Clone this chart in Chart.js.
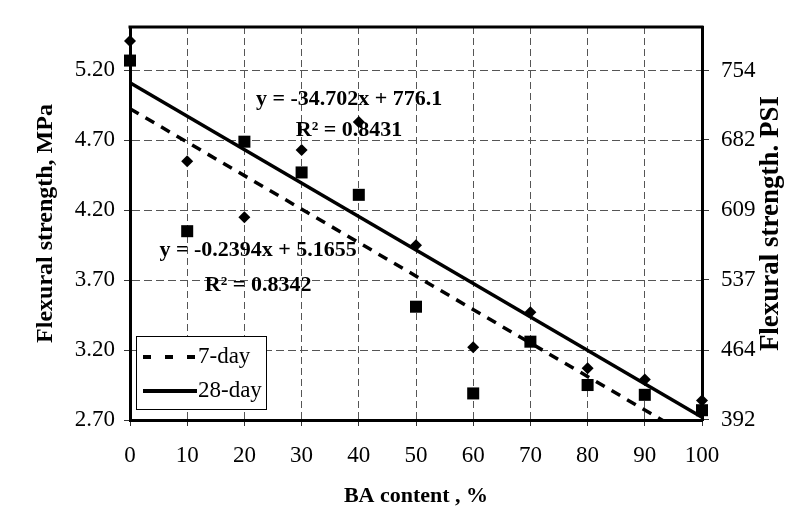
<!DOCTYPE html>
<html>
<head>
<meta charset="utf-8">
<title>Flexural strength vs BA content</title>
<script src="https://cdn.jsdelivr.net/npm/chart.js@4.4.0/dist/chart.umd.min.js"></script>
<style>
    html, body { margin: 0; padding: 0; background: #fff; }
    #chart { display: block; }
</style>
</head>
<body>
<canvas id="chart" width="798" height="532"></canvas>
<script>
// BA content (%) - x values
const baContent = [0, 10, 20, 30, 40, 50, 60, 70, 80, 90, 100];

// Measured flexural strength, MPa
const strength7Day = [5.27, 4.05, 4.69, 4.47, 4.31, 3.51, 2.89, 3.26, 2.95, 2.88, 2.77];
const strength28Day = [5.41, 4.55, 4.15, 4.63, 4.83, 3.95, 3.22, 3.47, 3.07, 2.99, 2.84];

// Axis ticks
const mpaTicks = [2.70, 3.20, 3.70, 4.20, 4.70, 5.20];
const psiTicks = [392, 464, 537, 609, 682, 754];
const mpaMin = 2.70;
const mpaMax = 5.51;
const PSI_PER_MPA = 145.038;

// Excel trendlines from the figure (x = point number 1..11)
const trend7 = { slope: -0.2394, intercept: 5.1655, r2: 0.8342 };   // MPa
const trend28 = { slope: -34.702, intercept: 776.1, r2: 0.8431 };   // psi

const serif = "'Liberation Serif', 'Times New Roman', Times, serif";

function trendPoints(t) {
    const last = baContent.length - 1;
    return [
        { x: baContent[0], y: t.intercept + t.slope * 1 },
        { x: baContent[last], y: t.intercept + t.slope * (last + 1) }
    ];
}

function equationText(t) {
    return 'y = ' + t.slope + 'x + ' + t.intercept;
}

// Top edge of the plot frame (the axes draw the other three sides)
const frameTop = {
    id: 'frameTop',
    beforeDatasetsDraw(chart) {
        const a = chart.chartArea;
        const ctx = chart.ctx;
        ctx.save();
        ctx.strokeStyle = '#000';
        ctx.lineWidth = 3;
        ctx.beginPath();
        ctx.moveTo(a.left - 1.5, a.top);
        ctx.lineTo(a.right + 1.5, a.top);
        ctx.stroke();
        ctx.restore();
    }
};

// Trendline equations placed in data coordinates
const equations = {
    id: 'equations',
    afterDatasetsDraw(chart, args, opts) {
        const ctx = chart.ctx;
        const x = chart.scales.x;
        const y = chart.scales.y;
        ctx.save();
        ctx.fillStyle = '#000';
        ctx.font = 'bold 22px ' + serif;
        ctx.textAlign = 'center';
        ctx.textBaseline = 'middle';
        opts.items.forEach(item => {
            ctx.fillText(item.text, x.getPixelForValue(item.x), y.getPixelForValue(item.y));
        });
        ctx.restore();
    }
};

// Boxed legend in the lower-left corner of the plot
const boxLegend = {
    id: 'boxLegend',
    afterDraw(chart) {
        const a = chart.chartArea;
        const ctx = chart.ctx;
        const entries = chart.data.datasets.filter(d => d.inLegend);
        const left = a.left + 6, bottom = a.bottom - 11;
        const w = 130, rowH = 34, h = 73;
        const top = bottom - h;
        ctx.save();
        ctx.fillStyle = '#fff';
        ctx.fillRect(left, top, w, h);
        ctx.strokeStyle = '#000';
        ctx.lineWidth = 1;
        ctx.strokeRect(left + 0.5, top + 0.5, w, h);
        entries.forEach((d, i) => {
            const cy = top + 21 + i * rowH;
            ctx.strokeStyle = '#000';
            ctx.lineWidth = 4;
            ctx.setLineDash(d.borderDash && d.borderDash.length ? [8, 14] : []);
            ctx.beginPath();
            ctx.moveTo(left + 7, cy);
            ctx.lineTo(left + 61, cy);
            ctx.stroke();
            ctx.setLineDash([]);
            ctx.fillStyle = '#000';
            ctx.font = '23px ' + serif;
            ctx.textAlign = 'left';
            ctx.textBaseline = 'middle';
            ctx.fillText(d.label, left + 62, cy);
        });
        ctx.restore();
    }
};

// Right axis title reads bottom-to-top like the left one
const rightTitle = {
    id: 'rightTitle',
    afterDraw(chart, args, opts) {
        const a = chart.chartArea;
        const ctx = chart.ctx;
        ctx.save();
        ctx.translate(a.right + 69, (a.top + a.bottom) / 2);
        ctx.rotate(-Math.PI / 2);
        ctx.fillStyle = '#000';
        ctx.font = 'bold 27px ' + serif;
        ctx.textAlign = 'center';
        ctx.textBaseline = 'middle';
        ctx.fillText(opts.text, 0, 0);
        ctx.restore();
    }
};

const tickFont = { family: serif, size: 23 };
const gridColor = '#555';

new Chart(document.getElementById('chart'), {
    type: 'scatter',
    data: {
        datasets: [
            {
                label: '7-day points',
                data: baContent.map((v, i) => ({ x: v, y: strength7Day[i] })),
                pointStyle: 'rect',
                pointRadius: 8.5,
                backgroundColor: '#000',
                borderColor: '#000',
                borderWidth: 0,
                clip: false,
                order: 0
            },
            {
                label: '28-day points',
                data: baContent.map((v, i) => ({ x: v, y: strength28Day[i] })),
                pointStyle: 'rectRot',
                pointRadius: 6,
                backgroundColor: '#000',
                borderColor: '#000',
                borderWidth: 0,
                clip: false,
                order: 0
            },
            {
                label: '7-day',
                inLegend: true,
                type: 'line',
                data: trendPoints(trend7),
                borderColor: '#000',
                borderWidth: 3.5,
                borderDash: [10, 8],
                pointRadius: 0,
                fill: false,
                order: 1
            },
            {
                label: '28-day',
                inLegend: true,
                type: 'line',
                yAxisID: 'y2',
                data: trendPoints(trend28),
                borderColor: '#000',
                borderWidth: 3.5,
                pointRadius: 0,
                fill: false,
                order: 1
            }
        ]
    },
    options: {
        responsive: false,
        animation: false,
        devicePixelRatio: 1,
        layout: { padding: { top: 27, left: 0, right: 0, bottom: 0 } },
        plugins: {
            legend: { display: false },
            tooltip: { enabled: false },
            equations: {
                items: [
                    { text: equationText(trend28), x: 38.3, y: 4.99 },
                    { text: 'R\u00b2 = ' + trend28.r2, x: 38.3, y: 4.77 },
                    { text: equationText(trend7), x: 22.4, y: 3.91 },
                    { text: 'R\u00b2 = ' + trend7.r2, x: 22.4, y: 3.66 }
                ]
            },
            rightTitle: { text: 'Flexural strength. PSI' }
        },
        scales: {
            x: {
                type: 'linear',
                min: baContent[0],
                max: baContent[baContent.length - 1],
                afterBuildTicks: s => { s.ticks = baContent.map(v => ({ value: v })); },
                ticks: { font: tickFont, color: '#000', padding: 16, maxRotation: 0 },
                grid: { color: gridColor, lineWidth: 1, tickLength: 6, tickColor: '#333' },
                border: { color: '#000', width: 3, dash: [7, 4] },
                title: {
                    display: true,
                    text: 'BA content , %',
                    color: '#000',
                    font: { family: serif, size: 22, weight: 'bold' },
                    padding: { top: 0, bottom: 22 }
                },
                afterFit: s => { s.height = 112; }
            },
            y: {
                position: 'left',
                min: mpaMin,
                max: mpaMax,
                afterBuildTicks: s => { s.ticks = mpaTicks.map(v => ({ value: v })); },
                ticks: {
                    font: tickFont, color: '#000', padding: 9,
                    callback: v => Number(v).toFixed(2)
                },
                grid: { color: gridColor, lineWidth: 1, tickLength: 6, tickColor: '#333' },
                border: { color: '#000', width: 3, dash: [8, 4] },
                title: {
                    display: true,
                    text: 'Flexural strength, MPa',
                    color: '#000',
                    font: { family: serif, size: 24, weight: 'bold' },
                    padding: { top: 31, bottom: 0 }
                },
                afterFit: s => { s.width = 130; }
            },
            y2: {
                position: 'right',
                min: mpaMin * PSI_PER_MPA,
                max: mpaMax * PSI_PER_MPA,
                afterBuildTicks: s => { s.ticks = psiTicks.map(v => ({ value: v })); },
                ticks: {
                    font: tickFont, color: '#000', padding: 12,
                    callback: v => String(v)
                },
                grid: { drawOnChartArea: false, tickLength: 7, tickColor: '#333' },
                border: { color: '#000', width: 3 },
                afterFit: s => { s.width = 96; }
            }
        }
    },
    plugins: [frameTop, equations, boxLegend, rightTitle]
});
</script>
</body>
</html>
